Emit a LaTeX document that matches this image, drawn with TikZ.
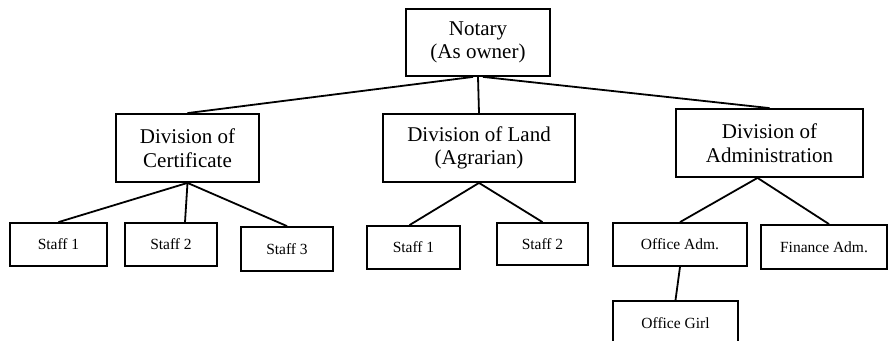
\documentclass[tikz,border=0pt]{standalone}
\usepackage{fontspec}
\setmainfont{Liberation Serif}
\usepackage{tikz}

\begin{document}
\begin{tikzpicture}[x=1pt, y=-1pt, line width=1.8pt,
    bigbox/.style={draw, rectangle, align=center, inner sep=0pt, font=\fontsize{21}{23.5}\selectfont},
    smallbox/.style={draw, rectangle, align=center, inner sep=0pt, font=\fontsize{15.5}{18}\selectfont}]
      % Define the canvas
      \useasboundingbox (0,0) rectangle (888,340);

      % Draw the top and the divisions
      \node[bigbox, minimum width=144, minimum height=67] (notary) at (478,42.5) {Notary\\(As owner)};
      \node[bigbox, minimum width=143, minimum height=68] (cert) at (187.5,148) {Division of\\Certificate};
      \node[bigbox, minimum width=192, minimum height=68] (land) at (479,148) {Division of Land\\(Agrarian)};
      \node[bigbox, minimum width=187, minimum height=68] (admin) at (769.5,143) {Division of\\Administration};

      % Draw the staff of each division
      \node[smallbox, minimum width=97, minimum height=43] (cstaff1) at (58.5,244.5) {Staff 1};
      \node[smallbox, minimum width=92, minimum height=43] (cstaff2) at (171,244.5) {Staff 2};
      \node[smallbox, minimum width=92, minimum height=44] (cstaff3) at (287,249) {Staff 3};
      \node[smallbox, minimum width=93, minimum height=43] (lstaff1) at (413.5,247.5) {Staff 1};
      \node[smallbox, minimum width=91, minimum height=42] (lstaff2) at (542.5,244) {Staff 2};
      \node[smallbox, minimum width=134, minimum height=43] (offadm) at (680,244.5) {Office Adm.};
      \node[smallbox, minimum width=126, minimum height=44] (finadm) at (824,247) {Finance Adm.};
      \node[smallbox, minimum width=125, minimum height=44] (girl) at (675.5,323) {Office Girl};

      % Draw lines from the owner to the divisions
      \draw ([xshift=-5]notary.south) -- (cert.north);
      \draw (notary.south) -- (land.north);
      \draw ([xshift=5]notary.south) -- (admin.north);

      % Draw lines from the divisions to the staff
      \draw (cert.south) -- (cstaff1.north);
      \draw (cert.south) -- ([xshift=14]cstaff2.north);
      \draw (cert.south) -- (cstaff3.north);
      \draw (land.south) -- ([xshift=-4]lstaff1.north);
      \draw (land.south) -- (lstaff2.north);
      \draw ([xshift=-12]admin.south) -- (offadm.north);
      \draw ([xshift=-12]admin.south) -- ([xshift=5]finadm.north);
      \draw (offadm.south) -- (girl.north);
    \end{tikzpicture}
\end{document}
